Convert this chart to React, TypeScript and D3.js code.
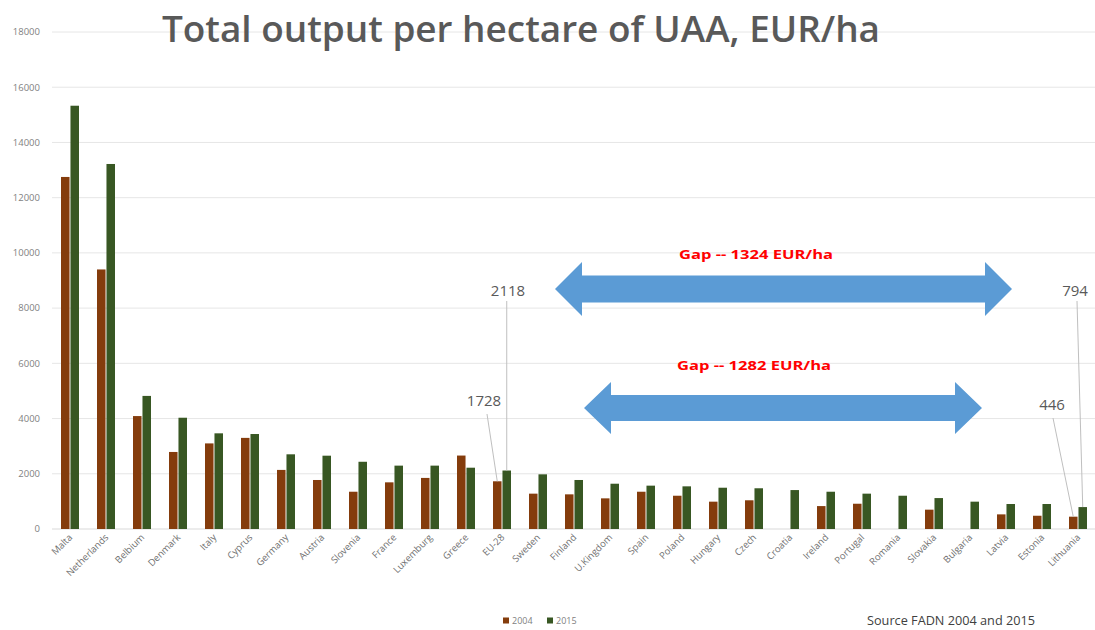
import React from "react";
import * as d3 from "d3";

const categories = ["Malta","Netherlands","Belbium","Denmark","Italy","Cyprus","Germany","Austria","Slovenia","France","Luxemburg","Greece","EU-28","Sweden","Finland","U.Kingdom","Spain","Poland","Hungary","Czech","Croatia","Ireland","Portugal","Romania","Slovakia","Bulgaria","Latvia","Estonia","Lithuania"];
const values2004: (number | null)[] = [12750, 9400, 4090, 2790, 3100, 3300, 2140, 1775, 1350, 1690, 1850, 2660, 1728, 1280, 1255, 1110, 1350, 1205, 990, 1040, null, 830, 915, null, 700, null, 530, 480, 446];
const values2015: (number | null)[] = [15330, 13220, 4820, 4030, 3465, 3440, 2705, 2655, 2435, 2295, 2295, 2220, 2118, 1980, 1775, 1640, 1570, 1545, 1495, 1475, 1410, 1350, 1280, 1205, 1120, 990, 905, 905, 794];
const seriesNames = ["2004", "2015"];
const seriesColors = ["#843C0C", "#385723"];
const yTicks = [0, 2000, 4000, 6000, 8000, 10000, 12000, 14000, 16000, 18000];
const title = "Total output per hectare of UAA, EUR/ha";
const gapLabels = ["Gap -- 1324 EUR/ha", "Gap -- 1282 EUR/ha"];
const source = "Source FADN 2004  and 2015";

const W = 1095, H = 630;

function blockArrow(x1: number, x2: number, cy: number, headLen: number, headHalf: number, shaftHalf: number) {
  return [
    [x1, cy], [x1 + headLen, cy - headHalf], [x1 + headLen, cy - shaftHalf],
    [x2 - headLen, cy - shaftHalf], [x2 - headLen, cy - headHalf], [x2, cy],
    [x2 - headLen, cy + headHalf], [x2 - headLen, cy + shaftHalf],
    [x1 + headLen, cy + shaftHalf], [x1 + headLen, cy + headHalf]
  ].map(p => p.join(",")).join(" ");
}

export default function App() {
  const x0 = d3.scaleBand<string>().domain(categories).range([52, 1096]).padding(0);
  const x1 = d3.scaleBand<string>().domain(seriesNames).range([9, 27]).paddingInner(0.1);
  const y = d3.scaleLinear().domain([0, 18000]).range([529, 32]);
  const series = [values2004, values2015];
  const font = "'Open Sans', sans-serif";

  const eu = categories.indexOf("EU-28");
  const lt = categories.indexOf("Lithuania");
  const euX04 = x0(categories[eu])! + x1("2004")! + x1.bandwidth() / 2;
  const euX15 = x0(categories[eu])! + x1("2015")! + x1.bandwidth() / 2;
  const ltX04 = x0(categories[lt])! + x1("2004")! + x1.bandwidth() / 2;
  const ltX15 = x0(categories[lt])! + x1("2015")! + x1.bandwidth() / 2;

  return (
    <svg width={W} height={H} style={{ position: "absolute", left: 0, top: 0, background: "#fff" }} fontFamily={font}>
      <rect x={0} y={0} width={W} height={H} fill="#fff" />
      {yTicks.map(t => (
        <g key={t}>
          <line x1={52} x2={W} y1={y(t)} y2={y(t)} stroke={t === 0 ? "#d9d9d9" : "#e6e6e6"} strokeWidth={1} />
          <text x={40} y={y(t)} dy="0.35em" textAnchor="end" fontSize={9.5} fill="#7f7f7f">{t}</text>
        </g>
      ))}
      <text x={162} y={42} fontSize={36} fontWeight={600} fill="#595959" textLength={718} lengthAdjust="spacingAndGlyphs">{title}</text>
      {categories.map((c, i) => (
        <g key={c} transform={`translate(${x0(c)},0)`}>
          {series.map((vals, s) => {
            const v = vals[i];
            if (v == null) return null;
            return <rect key={s} x={x1(seriesNames[s])} y={y(v)} width={x1.bandwidth()} height={y(0) - y(v)} fill={seriesColors[s]} />;
          })}
          <text transform={`translate(${x0.bandwidth() / 2 + 3},538) rotate(-45)`} textAnchor="end" fontSize={9.5} fill="#6f6f6f">{c}</text>
        </g>
      ))}
      {/* arrows */}
      <polygon points={blockArrow(555, 1012, 289, 27, 27, 13.5)} fill="#5B9BD5" />
      <polygon points={blockArrow(584, 982, 408, 27, 26, 13)} fill="#5B9BD5" />
      <text x={756} y={259} textAnchor="middle" fontSize={13} fontWeight="bold" fill="#FF0000" textLength={154} lengthAdjust="spacingAndGlyphs">{gapLabels[0]}</text>
      <text x={754} y={370} textAnchor="middle" fontSize={13} fontWeight="bold" fill="#FF0000" textLength={154} lengthAdjust="spacingAndGlyphs">{gapLabels[1]}</text>
      {/* data callouts */}
      <text x={508} y={296} textAnchor="middle" fontSize={15} fill="#595959">{values2015[eu]}</text>
      <line x1={euX15} x2={euX15} y1={301} y2={y(values2015[eu]!)} stroke="#bfbfbf" strokeWidth={1} />
      <text x={484} y={406} textAnchor="middle" fontSize={15} fill="#595959">{values2004[eu]}</text>
      <line x1={487} x2={euX04} y1={414} y2={y(values2004[eu]!)} stroke="#bfbfbf" strokeWidth={1} />
      <text x={1052} y={410} textAnchor="middle" fontSize={15} fill="#595959">{values2004[lt]}</text>
      <line x1={1053} x2={ltX04} y1={418} y2={y(values2004[lt]!)} stroke="#bfbfbf" strokeWidth={1} />
      <text x={1075} y={296} textAnchor="middle" fontSize={15} fill="#595959">{values2015[lt]}</text>
      <line x1={1077} x2={ltX15} y1={301} y2={y(values2015[lt]!)} stroke="#bfbfbf" strokeWidth={1} />
      {/* legend */}
      {seriesNames.map((s, i) => (
        <g key={s} transform={`translate(${503 + i * 44},621)`}>
          <rect x={0} y={-3.5} width={6} height={6} fill={seriesColors[i]} />
          <text x={9} y={0} dy="0.35em" fontSize={9} fill="#7f7f7f">{s}</text>
        </g>
      ))}
      <text x={867} y={625} fontSize={12} fill="#404040" textLength={168} lengthAdjust="spacingAndGlyphs">{source}</text>
    </svg>
  );
}
